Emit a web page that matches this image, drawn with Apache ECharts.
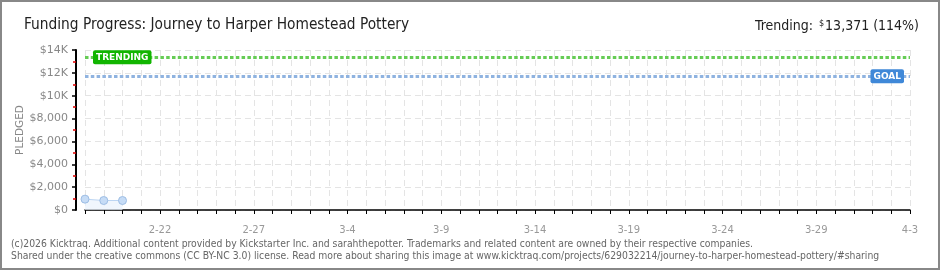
<!DOCTYPE html>
<html>
<head>
<meta charset="utf-8">
<script src="https://cdn.jsdelivr.net/npm/echarts@6/dist/echarts.min.js"></script>
<style>
  html, body { margin: 0; padding: 0; background: #fff; }
  #chart { width: 940px; height: 270px; }
</style>
</head>
<body>
<div id="chart"></div>
<script>
// ---- Data ----
const titleText = 'Funding Progress: Journey to Harper Homestead Pottery';
const yAxisName = 'PLEDGED';
const dates = [
  '2-18','2-19','2-20','2-21','2-22','2-23','2-24','2-25','2-26','2-27','2-28',
  '3-1','3-2','3-3','3-4','3-5','3-6','3-7','3-8','3-9','3-10','3-11','3-12',
  '3-13','3-14','3-15','3-16','3-17','3-18','3-19','3-20','3-21','3-22','3-23',
  '3-24','3-25','3-26','3-27','3-28','3-29','3-30','3-31','4-1','4-2','4-3'
];
const pledged = [950, 830, 830];
const trendingValue = 13371;
const goalValue = 11700;
const trendingPercent = 114;
const yTickValues = [0, 2000, 4000, 6000, 8000, 10000, 12000, 14000];
const yTickLabels = ['$0', '$2,000', '$4,000', '$6,000', '$8,000', '$10K', '$12K', '$14K'];
const footerLines = [
  '(c)2026 Kicktraq. Additional content provided by Kickstarter Inc. and sarahthepotter. Trademarks and related content are owned by their respective companies.',
  'Shared under the creative commons (CC BY-NC 3.0) license. Read more about sharing this image at www.kicktraq.com/projects/629032214/journey-to-harper-homestead-pottery/#sharing'
];

const chart = echarts.init(document.getElementById('chart'), null, { renderer: 'canvas' });
const titleFont = '"DejaVu Sans Condensed", "DejaVu Sans", sans-serif';
const labelFont = '"DejaVu Sans", sans-serif';

const option = {
  backgroundColor: '#ffffff',
  animation: false,
  title: [
    {
      text: titleText,
      left: 19, top: 13,
      textStyle: { fontFamily: titleFont, fontSize: 15.3, fontWeight: 'normal', color: '#222' }
    },
    {
      text: '{a|Trending: }{s|$}{a|' + trendingValue.toLocaleString('en-US') + ' (' + trendingPercent + '%)}',
      right: 16, top: 14,
      textStyle: {
        fontWeight: 'normal',
        rich: {
          a: { fontFamily: titleFont, fontSize: 14, fontWeight: 'normal', color: '#222' },
          s: { fontFamily: titleFont, fontSize: 9, fontWeight: 'normal', color: '#222', verticalAlign: 'top', padding: [0, 1, 5, 2] }
        }
      }
    }
  ],
  grid: { left: 85, right: 30, top: 50, bottom: 60, containLabel: false },
  xAxis: {
    type: 'category',
    data: dates,
    boundaryGap: false,
    offset: 10,
    axisLine: { show: true, lineStyle: { color: '#000', width: 1.5 } },
    axisTick: { show: true, interval: 0, length: 4, lineStyle: { color: '#000', width: 1 } },
    axisLabel: {
      interval: function (i) { return (i - 4) % 5 === 0 && i >= 4; },
      color: '#999', fontFamily: labelFont, fontSize: 10, margin: 5
    },
    splitLine: { show: true, interval: 0, lineStyle: { color: '#e4e4e4', type: [6, 4], width: 1 } }
  },
  yAxis: {
    type: 'value',
    min: 0, max: 14000, interval: 2000,
    offset: 9,
    axisLine: { show: true, lineStyle: { color: '#000', width: 2 } },
    axisTick: { show: true, length: 4, lineStyle: { color: '#000', width: 1.5 } },
    minorTick: { show: true, splitNumber: 2, length: 3, lineStyle: { color: '#e00000', width: 1.5 } },
    axisLabel: {
      color: '#888', fontFamily: labelFont, fontSize: 11, margin: 8,
      formatter: function (v) { const k = yTickValues.indexOf(v); return k >= 0 ? yTickLabels[k] : ''; }
    },
    splitLine: { show: true, lineStyle: { color: '#e4e4e4', type: [6, 4], width: 1 } }
  },
  series: [
    {
      type: 'line',
      data: pledged,
      symbol: 'circle',
      symbolSize: 8,
      showSymbol: true,
      itemStyle: { color: '#c6dcf6', borderColor: '#9dbde4', borderWidth: 1 },
      lineStyle: { color: '#bcd5f2', width: 1 },
      areaStyle: { color: '#eaf2fc' },
      z: 5,
      markLine: {
        silent: true,
        symbol: ['none', 'none'],
        animation: false,
        data: [
          {
            yAxis: trendingValue,
            lineStyle: { color: '#66cc55', width: 3, type: [3.5, 2.3] },
            label: {
              show: true, position: 'insideStart', distance: 8,
              formatter: 'TRENDING',
              color: '#fff', fontFamily: labelFont, fontSize: 9, fontWeight: 'bold',
              backgroundColor: '#11b500', borderRadius: 2, padding: [3, 3, 2, 3]
            }
          },
          {
            yAxis: goalValue,
            lineStyle: { color: '#8fb3e0', width: 3, type: [3.5, 2.3] },
            label: {
              show: true, position: 'insideEnd', distance: 6,
              formatter: 'GOAL',
              color: '#fff', fontFamily: labelFont, fontSize: 9, fontWeight: 'bold',
              backgroundColor: '#3f88d8', borderRadius: 2, padding: [3, 3, 2, 3]
            }
          }
        ]
      }
    }
  ],
  graphic: [
    {
      type: 'rect', silent: true, z: 100,
      shape: { x: 1, y: 1, width: 938, height: 268 },
      style: { fill: 'none', stroke: '#888', lineWidth: 2 }
    },
    {
      type: 'text', silent: true, x: 20, y: 130, rotation: Math.PI / 2,
      style: { text: yAxisName, fill: '#888', font: '10.5px "DejaVu Sans", sans-serif', align: 'center', verticalAlign: 'middle' }
    },
    {
      type: 'text', left: 11, top: 239, silent: true,
      style: { text: footerLines[0], fill: '#666', font: '10.3px "DejaVu Sans Condensed", sans-serif' }
    },
    {
      type: 'text', left: 11, top: 251, silent: true,
      style: { text: footerLines[1], fill: '#666', font: '10.3px "DejaVu Sans Condensed", sans-serif' }
    }
  ]
};
chart.setOption(option);
</script>
</body>
</html>
